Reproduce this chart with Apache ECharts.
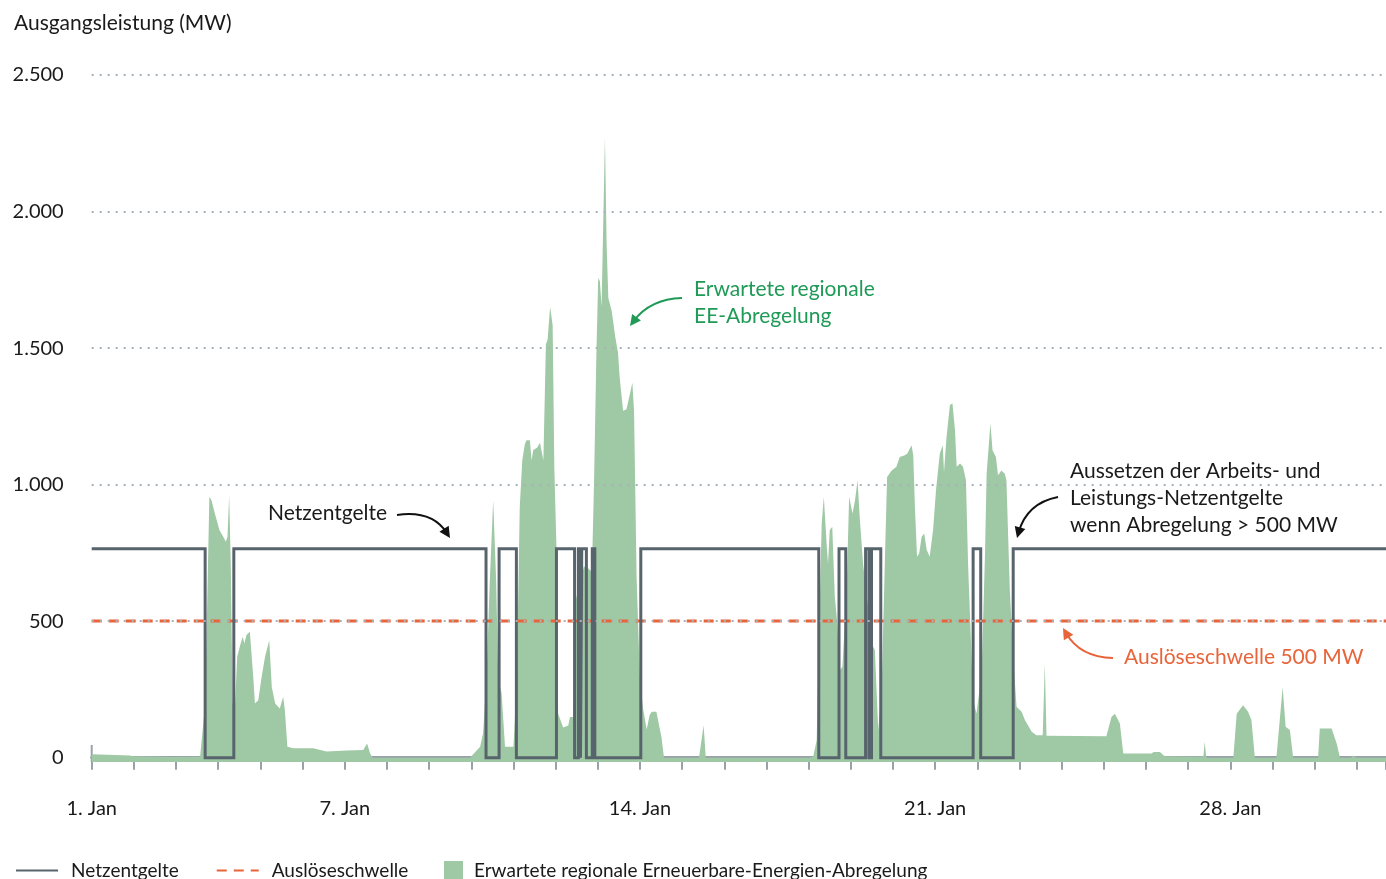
<!DOCTYPE html>
<html>
<head>
<meta charset="utf-8">
<script src="https://cdn.jsdelivr.net/npm/echarts@6/dist/echarts.min.js"></script>
<style>
html,body{margin:0;padding:0;background:#fff;}
#c{width:1386px;height:879px;}
</style>
</head>
<body>
<div id="c"></div>
<script>
// ---- data (x in days since 1 Jan 00:00, y in MW) ----
const eeDays = [0,0.91,0.98,1.62,1.97,2.57,2.69,2.79,2.84,2.92,3.03,3.12,3.18,3.22,3.26,3.30,3.34,3.40,3.45,3.52,3.58,3.62,3.67,3.75,3.79,3.83,3.87,3.95,4.03,4.11,4.21,4.27,4.35,4.46,4.54,4.58,4.64,4.78,5.25,5.57,6.05,6.44,6.53,6.60,6.66,
8.97,9.01,9.21,9.28,9.36,9.44,9.52,9.59,9.64,9.72,9.80,10.00,10.08,10.15,10.21,10.27,10.31,10.39,10.43,10.47,10.56,10.63,10.67,10.71,10.77,10.81,10.87,10.93,10.97,11.02,11.06,11.18,11.30,11.34,11.42,11.48,11.58,11.67,11.77,11.86,11.91,11.97,12.01,12.05,12.09,12.17,12.21,12.25,12.33,12.41,12.48,12.52,12.60,12.68,12.76,12.82,12.86,12.92,13.00,13.08,13.16,13.23,13.28,13.39,13.46,13.51,13.57,
14.40,14.51,14.56,
17.03,17.11,17.19,17.25,17.31,17.36,17.43,17.46,17.50,17.56,17.62,17.68,17.74,17.80,17.90,17.96,18.04,18.10,18.16,18.21,18.29,18.41,18.49,18.57,18.65,18.73,18.81,18.86,18.97,19.08,19.16,19.28,19.34,19.44,19.48,19.52,19.57,19.62,19.68,19.74,19.80,19.87,19.95,20.02,20.11,20.18,20.21,20.27,20.35,20.41,20.47,20.51,20.59,20.66,20.73,20.78,20.90,20.98,21.10,21.18,21.22,21.31,21.36,21.44,21.49,21.57,21.65,21.69,21.77,21.85,21.93,22.05,22.13,22.29,22.40,22.55,22.60,22.64,22.68,24.06,24.18,24.26,24.38,24.46,25.13,25.18,25.33,25.44,26.28,26.36,26.39,26.43,27.07,27.15,27.30,27.42,27.50,27.58,28.09,28.17,28.24,28.31,28.41,28.49,29.08,29.12,29.40,29.52,29.60,29.86,29.91,29.99,30.69];
const eeMW = [12,8,5,3,2,3,198,955,943,894,833,809,791,809,961,687,198,198,369,412,443,418,449,461,467,296,198,210,296,369,430,259,198,180,223,174,40,34,34,22,26,28,52,16,0,
0,3,40,89,284,650,943,650,284,236,40,40,284,919,1089,1148,1162,1162,1089,1127,1135,1153,1120,1089,1514,1530,1651,1583,1059,770,161,110,118,149,149,580,640,700,694,680,1000,1500,1757,1745,1651,2274,1879,1683,1636,1545,1483,1390,1270,1276,1330,1373,1270,663,284,174,103,156,168,168,113,76,0,
0,119,0,
0,5,64,491,858,955,772,711,833,846,589,491,320,333,614,955,894,943,1016,882,711,552,418,394,101,247,736,1028,1052,1065,1101,1107,1114,1144,1107,918,736,748,809,821,760,736,833,980,1114,1144,1046,1175,1291,1297,1199,1065,1077,1065,1016,711,211,162,308,736,1040,1224,1126,1101,1034,1052,1040,1016,614,369,186,168,137,95,82,82,345,80,78,78,149,161,125,15,15,21,21,5,3,5,57,0,0,161,192,168,137,0,0,137,259,113,101,0,0,107,107,52,0,0,8,0,0];

const nzDays = [0,2.69,3.37,9.35,9.66,10.07,11.02,11.45,11.54,11.59,11.62,11.73,11.87,11.93,13.02,17.24,17.72,17.88,18.35,18.43,18.49,18.71,20.90,21.08,21.85,30.69];
const nzMW   = [765,0,765,0,765,0,765,0,765,0,765,0,765,0,765,0,765,0,765,0,765,0,765,0,765,765];

const thresholdMW = 500;
const gridValues = [500,1000,1500,2000,2500];
const yTickValues = [0,500,1000,1500,2000,2500];
const yTickLabels = ['0','500','1.000','1.500','2.000','2.500'];
const xLabelDays = [0,6,13,20,27];
const xLabelTexts = ['1. Jan','7. Jan','14. Jan','21. Jan','28. Jan'];
const xMaxDay = 30.69;

const NAME_NZ = 'Netzentgelte';
const NAME_TH = 'Auslöseschwelle';
const NAME_EE = 'Erwartete regionale Erneuerbare-Energien-Abregelung';

// ---- styling ----
const FONT = 'Lato, "Noto Sans", sans-serif';
const FS = 21, FS_AX = 20, FS_LG = 19;
const C_NZ = '#58646c', C_EE = '#9fc8a5', C_TH = '#e8643a', C_GRID = '#a9b1b8', C_TXT = '#1a1a1a', C_GREEN = '#1f9a57';

function arrow(x1,y1,cx,cy,x2,y2,color){
  let dx = x2-cx, dy = y2-cy; const L = Math.hypot(dx,dy); dx/=L; dy/=L;
  const len = 11, w = 5.5;
  const bx = x2-dx*len, by = y2-dy*len;
  return [
    {type:'bezierCurve', silent:true, shape:{x1:x1,y1:y1,cpx1:cx,cpy1:cy,x2:x2-dx*6,y2:y2-dy*6}, style:{stroke:color,lineWidth:2,fill:null}},
    {type:'polygon', silent:true, shape:{points:[[x2,y2],[bx-dy*w,by+dx*w],[bx+dy*w,by-dx*w]]}, style:{fill:color}}
  ];
}

const chart = echarts.init(document.getElementById('c'), null, {renderer:'canvas'});
const option = {
  animation:false,
  backgroundColor:'#fff',
  textStyle:{fontFamily:FONT},
  grid:{left:91.7, right:0, top:75, bottom:117},
  xAxis:{
    type:'value', min:0, max:xMaxDay, interval:1,
    axisLine:{show:true, lineStyle:{color:'#9aa2a9', width:3}},
    axisTick:{show:true, length:12, lineStyle:{color:'#9aa2a9', width:2}},
    axisLabel:{show:true, customValues:xLabelDays, formatter:v=>xLabelTexts[xLabelDays.indexOf(Math.round(v))]||'', margin:37, color:C_TXT, fontSize:FS_AX, fontFamily:FONT},
    splitLine:{show:false}
  },
  yAxis:{
    type:'value', min:-16, max:2500,
    axisLine:{show:false}, axisTick:{show:false}, splitLine:{show:false},
    axisLabel:{customValues:yTickValues, formatter:v=>yTickLabels[yTickValues.indexOf(v)], margin:28, color:C_TXT, fontSize:FS_AX, fontFamily:FONT}
  },
  legend:[
    {data:[NAME_NZ, NAME_TH], left:15, top:861, padding:0, itemWidth:42, itemHeight:14, itemGap:37,
     itemStyle:{opacity:0},
     textStyle:{fontSize:FS_LG, color:C_TXT, fontFamily:FONT, padding:[0,0,0,8]}, selectedMode:false},
    {data:[{name:NAME_EE, icon:'rect'}], left:444, top:861, padding:0, itemWidth:19, itemHeight:19,
     textStyle:{fontSize:FS_LG, color:C_TXT, fontFamily:FONT, padding:[0,0,0,6]}, selectedMode:false}
  ],
  series:[
    {name:NAME_EE, type:'line', z:1, data:eeDays.map((d,i)=>[d,eeMW[i]]), showSymbol:false, symbol:'none',
     color:C_EE, itemStyle:{color:C_EE}, lineStyle:{width:0, opacity:0}, areaStyle:{color:C_EE, opacity:1, origin:'start'}},
    {name:'grid', type:'line', z:2, data:[], silent:true,
     markLine:{silent:true, symbol:'none', label:{show:false}, animation:false,
       lineStyle:{color:C_GRID, width:2, type:[2,6]}, data:gridValues.map(v=>({yAxis:v}))}},
    {name:NAME_TH, type:'line', z:3, data:[[0,thresholdMW],[xMaxDay,thresholdMW]], showSymbol:false, symbol:'none',
     color:C_TH, lineStyle:{color:C_TH, width:3, type:[10,7]}},
    {name:NAME_NZ, type:'line', z:4, step:'end', data:nzDays.map((d,i)=>[d,nzMW[i]]), showSymbol:false, symbol:'none',
     color:C_NZ, lineStyle:{color:C_NZ, width:3, join:'miter'}}
  ],
  graphic:[
    {type:'line', silent:true, shape:{x1:91.7,y1:745,x2:91.7,y2:762}, style:{stroke:'#9aa2a9', lineWidth:2}},
    {type:'text', left:14, top:13, style:{text:'Ausgangsleistung (MW)', font:FS+'px '+FONT, fill:C_TXT}},
    {type:'text', left:268, top:503, style:{text:'Netzentgelte', font:FS+'px '+FONT, fill:C_TXT}},
    ...arrow(397,515,432,510,450,538,'#111'),
    {type:'text', left:694, top:276, style:{text:'Erwartete regionale\nEE-Abregelung', font:FS+'px '+FONT, fill:C_GREEN, lineHeight:27}},
    ...arrow(682,298,650,299,630,326,C_GREEN),
    {type:'text', left:1070, top:458, style:{text:'Aussetzen der Arbeits- und\nLeistungs-Netzentgelte\nwenn Abregelung > 500 MW', font:FS+'px '+FONT, fill:C_TXT, lineHeight:27}},
    ...arrow(1058,497,1027,503,1017,538,'#111'),
    {type:'text', left:1124, top:647, style:{text:'Auslöseschwelle 500 MW', font:FS+'px '+FONT, fill:C_TH}},
    ...arrow(1113,658,1080,657,1063,628,C_TH)
  ]
};
chart.setOption(option);
</script>
</body>
</html>
